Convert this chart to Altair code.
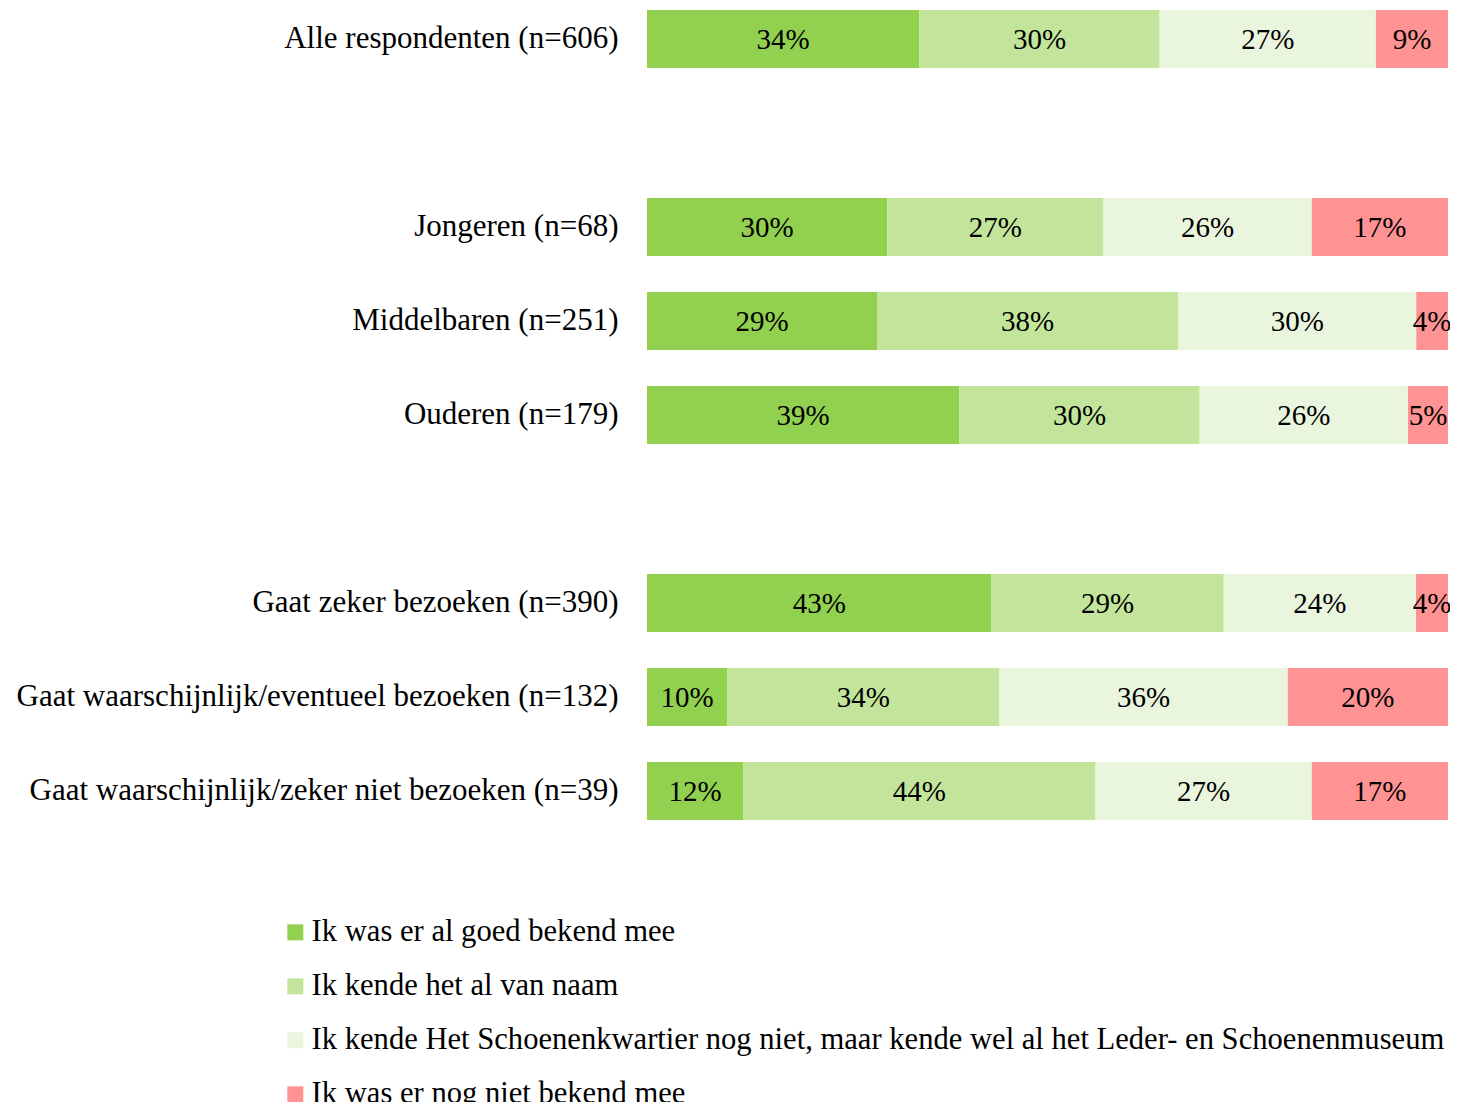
import altair as alt
import pandas as pd

rows = [
    "Alle respondenten (n=606)",
    "Jongeren (n=68)",
    "Middelbaren (n=251)",
    "Ouderen (n=179)",
    "Gaat zeker bezoeken (n=390)",
    "Gaat waarschijnlijk/eventueel bezoeken (n=132)",
    "Gaat waarschijnlijk/zeker niet bezoeken (n=39)",
]
y_domain = [rows[0], " ", rows[1], rows[2], rows[3], "  ", rows[4], rows[5], rows[6]]

categories = [
    "Ik was er al goed bekend mee",
    "Ik kende het al van naam",
    "Ik kende Het Schoenenkwartier nog niet, maar kende wel al het Leder- en Schoenenmuseum",
    "Ik was er nog niet bekend mee",
]
colors = ["#92D050", "#C3E59B", "#EAF5DE", "#FF9393"]

goed_bekend = [34, 30, 29, 39, 43, 10, 12]
van_naam = [30, 27, 38, 30, 29, 34, 44]
museum = [27, 26, 30, 26, 24, 36, 27]
niet_bekend = [9, 17, 4, 5, 4, 20, 17]

series = [goed_bekend, van_naam, museum, niet_bekend]
records = []
for ci, (cat, vals) in enumerate(zip(categories, series)):
    for r, v in zip(rows, vals):
        records.append({"row": r, "cat": cat, "order": ci, "value": v, "label": f"{v}%"})
df = pd.DataFrame(records)

FONT = "Liberation Serif"

base = alt.Chart(df).transform_joinaggregate(
    total="sum(value)", groupby=["row"]
).transform_window(
    cum="sum(value)", sort=[alt.SortField("order")], groupby=["row"], frame=[None, 0]
).transform_calculate(
    start="(datum.cum - datum.value) / datum.total",
    end="datum.cum / datum.total",
    mid="(datum.cum - datum.value / 2) / datum.total",
)

yscale = alt.Scale(domain=y_domain, paddingInner=0.383, paddingOuter=0.02)

yenc = alt.Y(
    "row:N",
    scale=yscale,
    axis=alt.Axis(
        title=None, domain=False, ticks=False, grid=False, labelPadding=29,
        labelFont=FONT, labelFontSize=31, labelColor="#000000", labelLimit=800,
    ),
)

bars = base.mark_bar(stroke=None).encode(
    x=alt.X("start:Q", scale=alt.Scale(domain=[0, 1]), axis=None),
    x2="end:Q",
    y=yenc,
    color=alt.Color(
        "cat:N",
        scale=alt.Scale(domain=categories, range=colors),
        sort=categories,
        legend=alt.Legend(
            title=None, orient="none", legendX=-367, legendY=909,
            symbolType="square", symbolSize=256, symbolStrokeWidth=0,
            labelFont=FONT, labelFontSize=30.6, labelColor="#000000",
            labelLimit=1500, rowPadding=23, labelOffset=1, direction="vertical",
        ),
    ),
)

texts = base.mark_text(font=FONT, fontSize=29, color="#000000", dy=1).encode(
    x=alt.X("mid:Q", scale=alt.Scale(domain=[0, 1]), axis=None),
    y=alt.Y("row:N", scale=yscale),
    text="label:N",
)

chart = alt.layer(bars, texts).properties(
    width=801,
    height=814,
    autosize=alt.AutoSizeParams(type="none"),
    padding={"left": 639, "top": 0, "right": 2, "bottom": 280},
).configure(background="#ffffff").configure_view(stroke=None, strokeWidth=0)

chart.save("out.html", embed_options={"renderer": "svg", "actions": False})
